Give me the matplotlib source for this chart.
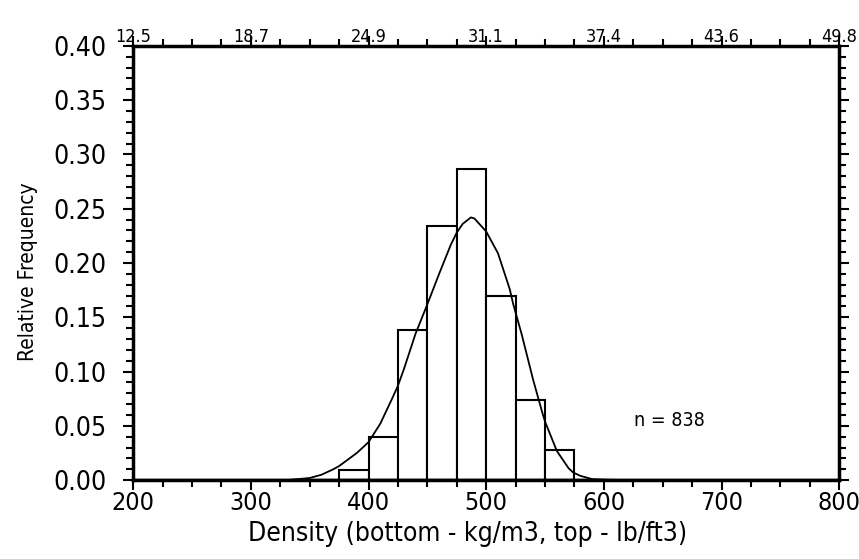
import numpy as np
import matplotlib as mpl
mpl.use("Agg")
import matplotlib.pyplot as plt
from matplotlib.ticker import MultipleLocator

# histogram (bin width 25 kg/m3)
bin_left = [375, 400, 425, 450, 475, 500, 525, 550]
rel_freq = [0.009, 0.040, 0.138, 0.234, 0.287, 0.170, 0.074, 0.028]

# fitted curve
curve_x = [330, 340, 350, 360, 370, 375, 380, 390, 400, 410, 420, 425, 430, 440,
           450, 460, 470, 475, 480, 487, 490, 500, 510, 520, 523, 530, 540,
           548, 550, 560, 570, 574, 580, 590, 600, 620, 650]
curve_y = [0.000, 0.001, 0.002, 0.005, 0.010, 0.013, 0.017, 0.025, 0.035, 0.052,
           0.075, 0.087, 0.102, 0.135, 0.162, 0.190, 0.217, 0.228, 0.236, 0.242,
           0.241, 0.229, 0.209, 0.176, 0.162, 0.135, 0.092, 0.061, 0.054, 0.027,
           0.011, 0.007, 0.004, 0.001, 0.0005, 0.0, 0.0]

bottom_ticks = [200, 300, 400, 500, 600, 700, 800]
top_labels = ["12.5", "18.7", "24.9", "31.1", "37.4", "43.6", "49.8"]
y_ticks = [0.00, 0.05, 0.10, 0.15, 0.20, 0.25, 0.30, 0.35, 0.40]
n_obs = 838

mpl.rcParams["font.family"] = ["DejaVu Sans"]
mpl.rcParams["font.stretch"] = "condensed"
mpl.rcParams["xtick.direction"] = "out"
mpl.rcParams["ytick.direction"] = "out"

fig = plt.figure(figsize=(8.59, 5.59), dpi=100)
ax = fig.add_axes([0.155, 0.141, 0.822, 0.777])

ax.bar(bin_left, rel_freq, width=25, align="edge", facecolor="white",
       edgecolor="black", linewidth=1.5, zorder=2)
ax.plot(curve_x, curve_y, color="black", linewidth=1.3, zorder=3)
ax.axhline(0, color="black", linewidth=2.5, zorder=4)

ax.set_xlim(200, 800)
ax.set_ylim(0, 0.40)
ax.set_xticks(bottom_ticks)
ax.xaxis.set_minor_locator(MultipleLocator(25))
ax.set_yticks(y_ticks)
ax.set_yticklabels([f"{v:.2f}" for v in y_ticks])
ax.yaxis.set_minor_locator(MultipleLocator(0.01))

for s in ax.spines.values():
    s.set_linewidth(2.5)

ax.tick_params(axis="x", which="both", labelsize=18, pad=1, width=1.5,
               top=True, length=7)
ax.tick_params(axis="x", which="minor", length=5)
ax.tick_params(axis="y", which="both", labelsize=19, pad=12, width=1.5,
               right=True, length=7)
ax.tick_params(axis="y", which="minor", length=5)

top = ax.secondary_xaxis("top")
top.set_xticks(bottom_ticks)
top.set_xticklabels(top_labels)
top.tick_params(axis="x", labelsize=13, pad=0, length=0)

ax.set_xlabel("Density (bottom - kg/m3, top - lb/ft3)", fontsize=19)
ax.xaxis.set_label_coords(0.473, -0.093)
ax.set_ylabel("Relative Frequency", fontsize=15)
ax.yaxis.set_label_coords(-0.135, 0.48)

ax.text(626, 0.055, f"n = {n_obs}", fontsize=14, ha="left", va="center")

fig.savefig("out.png", dpi=100)
